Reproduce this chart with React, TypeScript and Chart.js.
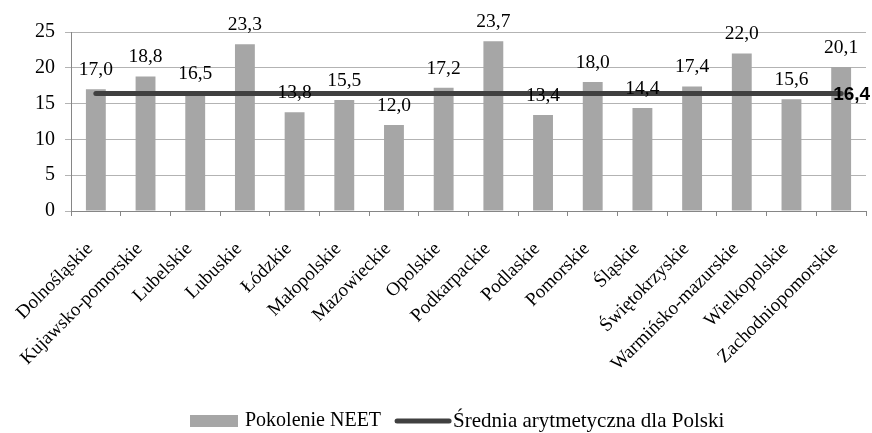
import React, { useEffect, useRef } from "react";
import { Chart, registerables } from "chart.js";

Chart.register(...registerables);

const categories: string[] = [
  "Dolnośląskie",
  "Kujawsko-pomorskie",
  "Lubelskie",
  "Lubuskie",
  "Łódzkie",
  "Małopolskie",
  "Mazowieckie",
  "Opolskie",
  "Podkarpackie",
  "Podlaskie",
  "Pomorskie",
  "Śląskie",
  "Świętokrzyskie",
  "Warmińsko-mazurskie",
  "Wielkopolskie",
  "Zachodniopomorskie",
];
const neetValues: number[] = [17.0, 18.8, 16.5, 23.3, 13.8, 15.5, 12.0, 17.2, 23.7, 13.4, 18.0, 14.4, 17.4, 22.0, 15.6, 20.1];
const averageValue = 16.4;
const averageValues: number[] = categories.map(() => averageValue);
const seriesNames: string[] = ["Pokolenie NEET", "Średnia arytmetyczna dla Polski"];
const yTicks: number[] = [0, 5, 10, 15, 20, 25];

const SERIF = "'Liberation Serif', 'Times New Roman', serif";
const BAR_COLOR = "#a6a6a6";
const LINE_COLOR = "#404040";
const fmt = (v: number) => v.toFixed(1).replace(".", ",");

const labelsPlugin = {
  id: "customLabels",
  afterDatasetsDraw(chart: any) {
    const ctx = chart.ctx;
    ctx.save();
    const barMeta = chart.getDatasetMeta(0);
    ctx.font = `19.5px ${SERIF}`;
    ctx.fillStyle = "#000";
    ctx.textAlign = "center";
    ctx.textBaseline = "alphabetic";
    barMeta.data.forEach((el: any, i: number) => {
      ctx.fillText(fmt(neetValues[i]), el.x, el.y - 14);
    });
    const lineMeta = chart.getDatasetMeta(1);
    const last = lineMeta.data[lineMeta.data.length - 1];
    ctx.font = "bold 19px 'Liberation Sans', Arial, sans-serif";
    ctx.textAlign = "left";
    ctx.textBaseline = "middle";
    ctx.fillText(fmt(averageValue), last.x - 8, last.y + 1);
    ctx.restore();
  },
  afterDraw(chart: any) {
    const ctx = chart.ctx;
    ctx.save();
    const cy = 421;
    let x = 190;
    ctx.fillStyle = BAR_COLOR;
    ctx.fillRect(x, cy - 6, 48, 12);
    x += 55;
    ctx.font = `20px ${SERIF}`;
    ctx.fillStyle = "#000";
    ctx.textAlign = "left";
    ctx.textBaseline = "middle";
    ctx.fillText(seriesNames[0], x, cy);
    x += ctx.measureText(seriesNames[0]).width + 14;
    ctx.strokeStyle = LINE_COLOR;
    ctx.lineWidth = 5;
    ctx.lineCap = "round";
    ctx.beginPath();
    ctx.moveTo(x + 2, cy);
    ctx.lineTo(x + 54, cy);
    ctx.stroke();
    x += 58;
    ctx.font = `21px ${SERIF}`;
    ctx.fillText(seriesNames[1], x, cy);
    ctx.restore();
  },
};

export default function App() {
  const ref = useRef<HTMLCanvasElement | null>(null);
  useEffect(() => {
    document.body.style.margin = "0";
    if (!ref.current) return;
    const chart = new Chart(ref.current, {
      type: "bar",
      data: {
        labels: categories,
        datasets: [
          {
            type: "bar",
            label: seriesNames[0],
            data: neetValues,
            backgroundColor: BAR_COLOR,
            barPercentage: 0.4,
            categoryPercentage: 1,
            order: 2,
          },
          {
            type: "line",
            label: seriesNames[1],
            data: averageValues,
            borderColor: LINE_COLOR,
            backgroundColor: LINE_COLOR,
            borderWidth: 5,
            borderCapStyle: "round",
            pointRadius: 0,
            fill: false,
            order: 1,
          } as any,
        ],
      },
      options: {
        animation: false,
        responsive: false,
        maintainAspectRatio: false,
        layout: { padding: { top: 32, right: 6, left: 0, bottom: 0 } },
        plugins: {
          legend: { display: false },
          tooltip: { enabled: false },
        },
        scales: {
          x: {
            offset: true,
            grid: {
              offset: true,
              drawOnChartArea: false,
              drawTicks: true,
              tickLength: 5,
              color: "#868686",
            },
            border: { color: "#868686" },
            ticks: {
              autoSkip: false,
              minRotation: 45,
              maxRotation: 45,
              padding: 22,
              labelOffset: -6,
              color: "#000",
              font: { family: SERIF, size: 19 },
            },
            afterFit: (scale: any) => {
              scale.height = 433 - 211;
              scale.paddingLeft = 0;
              scale.paddingRight = 0;
            },
          },
          y: {
            min: 0,
            max: 25,
            afterBuildTicks: (scale: any) => {
              scale.ticks = yTicks.map((v) => ({ value: v }));
            },
            grid: {
              color: "#b3b3b3",
              drawTicks: true,
              tickLength: 6,
            },
            border: { color: "#868686" },
            ticks: {
              padding: 10,
              color: "#000",
              font: { family: SERIF, size: 20 },
            },
            afterFit: (scale: any) => {
              scale.width = 71;
            },
          },
        },
      },
      plugins: [labelsPlugin],
    });
    return () => chart.destroy();
  }, []);
  return (
    <div style={{ width: 872, height: 433 }}>
      <canvas ref={ref} width={872} height={433} style={{ display: "block" }} />
    </div>
  );
}
